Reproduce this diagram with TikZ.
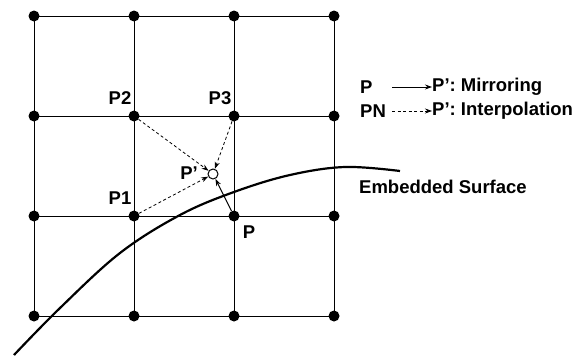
\documentclass[tikz,border=0pt]{standalone}
\usepackage{fontspec}
\setmainfont{Liberation Sans}
\usetikzlibrary{arrows.meta}
\begin{document}
\begin{tikzpicture}[x=1pt,y=-1pt,
  gridline/.style={line width=1pt},
  dot/.style={circle,fill=black,inner sep=0pt,minimum size=11pt},
  lbl/.style={font=\fontsize{18.5}{20}\selectfont\bfseries,inner sep=0pt},
  tip/.style={-{Stealth[length=7pt,width=5pt]}},
  dsh/.style={dash pattern=on 3pt off 2.5pt}]
\useasboundingbox (0,0) rectangle (573,356);
% grid
\foreach \y in {16,116,216,316} \draw[gridline] (34,\y) -- (334,\y);
\foreach \x in {34,134,234,334} \draw[gridline] (\x,16) -- (\x,316);
% dots
\foreach \x/\i in {34/1,134/2,234/3,334/4}
  \foreach \y/\j in {16/1,116/2,216/3,316/4}
    \node[dot] (d\i\j) at (\x,\y) {};
% surface curve
\draw[line width=2.2pt] plot[smooth,tension=0.6] coordinates
  {(14,355) (60,308) (120,253) (180,215) (234,192) (290,175) (345,167) (400,171)};
% P' circle
\node[circle,draw,fill=white,line width=1pt,inner sep=0pt,minimum size=10pt] (pp) at (213,174) {};
% arrows
\draw[line width=1pt,tip] (d33) -- (pp);
\draw[line width=0.8pt,dsh,tip] (d23) -- (pp);
\draw[line width=0.8pt,dsh,tip] (d22) -- (pp);
\draw[line width=0.8pt,dsh,tip] (d32) -- (pp);
% labels
\node[lbl] (lp2) at (120,98) {P2};
\node[lbl] (lp3) at (220,98) {P3};
\node[lbl] (lp1) at (120,198) {P1};
\node[lbl] (lpp) at (189,173) {P’};
\node[lbl] (lp) at (249,232) {P};
\node[lbl,anchor=west] (es) at (359,187) {Embedded Surface};
% legend
\node[lbl,anchor=west] (l1a) at (360,87) {P};
\node[lbl,anchor=west] (l1b) at (432,87) {P’: Mirroring};
\node[lbl,anchor=west] (l2a) at (360,111) {PN};
\node[lbl,anchor=west] (l2b) at (432,111) {P’: Interpolation};
\coordinate (a1) at (392,87);
\coordinate (a2) at (392,111);
\draw[line width=0.8pt,tip] (a1) -- (l1b.west);
\draw[line width=0.8pt,dsh,tip] (a2) -- (l2b.west);
\end{tikzpicture}
\end{document}
